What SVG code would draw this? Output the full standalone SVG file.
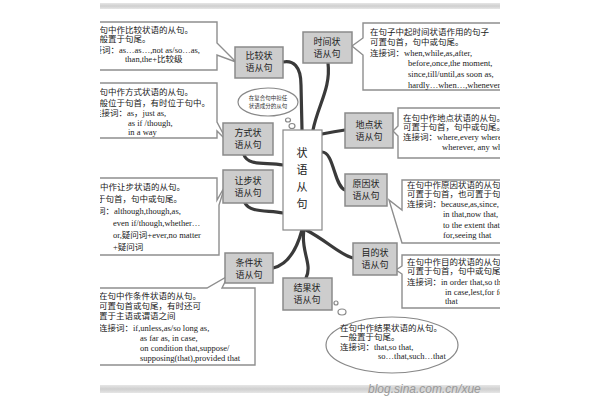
<svg xmlns="http://www.w3.org/2000/svg" width="600" height="400" viewBox="0 0 600 400">
<defs>
<clipPath id="clip"><rect x="100" y="0" width="400" height="400"/></clipPath>
<linearGradient id="bar" x1="0" y1="0" x2="0" y2="1"><stop offset="0" stop-color="#e6e6e6"/><stop offset="0.5" stop-color="#cfcfcf"/><stop offset="1" stop-color="#e6e6e6"/></linearGradient>
<style>
.box{fill:#fff;stroke:#8e8e8e;stroke-width:1.4}
.node rect{fill:#cdcdcd;stroke:#8a8a8a;stroke-width:1.5}
.nt{font-family:"Liberation Serif","Noto Sans CJK SC",serif;font-size:9px;fill:#222;text-anchor:middle}
.t{font-family:"Liberation Serif","Noto Sans CJK SC",serif;font-size:8.5px;fill:#1a1a1a}
.st{font-family:"Liberation Serif","Noto Sans CJK SC",serif;font-size:5.5px;fill:#333;text-anchor:middle}
.ct{font-family:"Liberation Serif","Noto Sans CJK SC",serif;font-size:11px;fill:#222;text-anchor:middle}
.conn{fill:none;stroke:#3a3a3a;stroke-width:3.2;stroke-linecap:round}
.bub{fill:#fff;stroke:#888;stroke-width:1.2}
</style>
</defs>
<rect width="600" height="400" fill="#fff"/>
<g clip-path="url(#clip)">
<rect x="100" y="3" width="400" height="6" fill="url(#bar)"/>
<rect x="100" y="385" width="400" height="8" fill="url(#bar)"/>
<text x="368" y="393" font-family="Liberation Sans, sans-serif" font-style="italic" font-size="12" fill="#9a9a9a">blog.sina.com.cn/xue</text>

<g id="connectors">
<path class="conn" d="M283,62 C293,60 301,66 301,85 L302,130"/>
<path class="conn" d="M328,63 C331,88 318,105 313,130"/>
<path class="conn" d="M322,134 C332,132 338,131 345,130"/>
<path class="conn" d="M322,152 C334,152 334,186 345,190"/>
<path class="conn" d="M244,155 C248,166 266,162 283,165"/>
<path class="conn" d="M245,203 C250,213 268,210 283,213"/>
<path class="conn" d="M302,230 C296,252 286,265 273,268"/>
<path class="conn" d="M304,230 C300,250 313,264 306,278"/>
<path class="conn" d="M306,230 C326,240 340,255 353,258"/>
</g>

<g id="box-bijiao">
<path class="box" d="M85,22 H217 V43 L236,62 L217,55 V70 H85 Z"/>
<text class="t" x="91" y="33">在句中作比较状语的从句。</text>
<text class="t" x="91" y="42">一般置于句尾。</text>
<text class="t" x="85" y="53">连接词：as…as…,not as/so…as,</text>
<text class="t" x="125" y="62">than,the+比较级</text>
</g>
<g id="box-fangshi">
<path class="box" d="M85,83 H217 V122 L227,141 L217,131 V138 H85 Z"/>
<text class="t" x="91" y="95">在句中作方式状语的从句。</text>
<text class="t" x="91" y="106">一般位于句首，有时位于句中。</text>
<text class="t" x="93" y="116">连接词：as，just as,</text>
<text class="t" x="128" y="126">as if /though,</text>
<text class="t" x="128" y="135">in a way</text>
</g>
<g id="box-rangbu">
<path class="box" d="M80,178 H217 V200 L225,186 L219,205 V255 H80 Z"/>
<text class="t" x="83" y="190">在句中作让步状语的从句。</text>
<text class="t" x="80" y="202">可置于句首，句中或句尾。</text>
<text class="t" x="80" y="214">连接词：although,though,as,</text>
<text class="t" x="113" y="226">even if/though,whether…</text>
<text class="t" x="113" y="238">or,疑问词+ever,no matter</text>
<text class="t" x="113" y="250">+疑问词</text>
</g>
<g id="box-tiaojian">
<path class="box" d="M85,288 H207 L228,276 L222,288 H255 V365 H85 Z"/>
<text class="t" x="99" y="299">在句中作条件状语的从句。</text>
<text class="t" x="99" y="309">可置句首或句尾，有时还可</text>
<text class="t" x="99" y="319">置于主语或谓语之间</text>
<text class="t" x="99" y="331">连接词：if,unless,as/so long as,</text>
<text class="t" x="140" y="341">as far as, in case,</text>
<text class="t" x="140" y="351">on condition that,suppose/</text>
<text class="t" x="140" y="361">supposing(that),provided that</text>
</g>
<g id="box-shijian">
<path class="box" d="M363,23 H510 V90 H363 V55 L352,46 L363,38 Z"/>
<text class="t" x="370" y="35">在句子中起时间状语作用的句子</text>
<text class="t" x="370" y="45">可置句首，句中或句尾。</text>
<text class="t" x="370" y="56">连接词：when,while,as,after,</text>
<text class="t" x="408" y="66">before,once,the moment,</text>
<text class="t" x="408" y="77">since,till/until,as soon as,</text>
<text class="t" x="408" y="88">hardly…when…,whenever</text>
</g>
<g id="box-didian">
<path class="box" d="M398,108 H510 V158 H398 V136 L393,131 L398,126 Z"/>
<text class="t" x="403" y="121">在句中作地点状语的从句。</text>
<text class="t" x="403" y="130">可置于句首，句中或句尾。</text>
<text class="t" x="403" y="140">连接词：where,every where,</text>
<text class="t" x="442" y="150">wherever, any where</text>
</g>
<g id="box-yuanyin">
<path class="box" d="M402,180 H510 V243 H402 L389,200 L402,210 Z"/>
<text class="t" x="407" y="188">在句中作原因状语的从句。</text>
<text class="t" x="407" y="197">可置于句首，也可置于句尾。</text>
<text class="t" x="407" y="207">连接词：because,as,since,</text>
<text class="t" x="443" y="217">in that,now that,</text>
<text class="t" x="443" y="228">to the extent that,</text>
<text class="t" x="443" y="238">for,seeing that</text>
</g>
<g id="box-mudi">
<path class="box" d="M402,255 H510 V308 H402 V274 L396,270 L402,266 Z"/>
<text class="t" x="407" y="265">在句中作目的状语的从句。</text>
<text class="t" x="407" y="274">可置于句首，句中或句尾。</text>
<text class="t" x="407" y="285">连接词：in order that,so that,</text>
<text class="t" x="445" y="295">in case,lest,for fear</text>
<text class="t" x="445" y="304">that</text>
</g>
<g id="bubble-jieguo">
<circle class="bub" cx="336" cy="303" r="2"/>
<ellipse class="bub" cx="342" cy="312" rx="4" ry="3"/>
<ellipse class="bub" cx="392" cy="345" rx="66" ry="28"/>
<text class="t" x="340" y="331">在句中作结果状语的从句。</text>
<text class="t" x="340" y="340">一般置于句尾。</text>
<text class="t" x="340" y="350">连接词：that,so that,</text>
<text class="t" x="378" y="359">so…that,such…that</text>
</g>
<g id="bubble-def">
<ellipse class="bub" cx="268" cy="102" rx="30" ry="14"/>
<ellipse class="bub" cx="288" cy="120" rx="2.5" ry="2"/>
<ellipse class="bub" cx="292" cy="126" rx="3" ry="2.5"/>
<text class="st" x="268" y="100">在复合句中担任</text>
<text class="st" x="268" y="108">状语成分的从句</text>
</g>

<g id="center" class="node">
<rect x="283" y="130" width="39" height="100" style="fill:#fff;stroke:#888;stroke-width:1.2"/>
<text class="ct" x="302" y="157">状</text>
<text class="ct" x="302" y="174">语</text>
<text class="ct" x="302" y="191">从</text>
<text class="ct" x="302" y="208">句</text>
</g>
<g id="n-bijiao" class="node"><rect x="235" y="47" width="48" height="31"/><text class="nt" x="259" y="59">比较状</text><text class="nt" x="259" y="71">语从句</text></g>
<g id="n-shijian" class="node"><rect x="303" y="32" width="49" height="31"/><text class="nt" x="327" y="45">时间状</text><text class="nt" x="327" y="57">语从句</text></g>
<g id="n-fangshi" class="node"><rect x="223" y="123" width="50" height="32"/><text class="nt" x="248" y="136">方式状</text><text class="nt" x="248" y="148">语从句</text></g>
<g id="n-rangbu" class="node"><rect x="223" y="170" width="50" height="33"/><text class="nt" x="248" y="184">让步状</text><text class="nt" x="248" y="196">语从句</text></g>
<g id="n-didian" class="node"><rect x="345" y="113" width="48" height="35"/><text class="nt" x="369" y="128">地点状</text><text class="nt" x="369" y="140">语从句</text></g>
<g id="n-yuanyin" class="node"><rect x="345" y="174" width="42" height="32"/><text class="nt" x="366" y="187">原因状</text><text class="nt" x="366" y="199">语从句</text></g>
<g id="n-mudi" class="node"><rect x="353" y="243" width="44" height="32"/><text class="nt" x="375" y="256">目的状</text><text class="nt" x="375" y="268">语从句</text></g>
<g id="n-tiaojian" class="node"><rect x="225" y="253" width="48" height="30"/><text class="nt" x="249" y="266">条件状</text><text class="nt" x="249" y="278">语从句</text></g>
<g id="n-jieguo" class="node"><rect x="283" y="278" width="49" height="32"/><text class="nt" x="307" y="291">结果状</text><text class="nt" x="307" y="303">语从句</text></g>
</g>
</svg>
